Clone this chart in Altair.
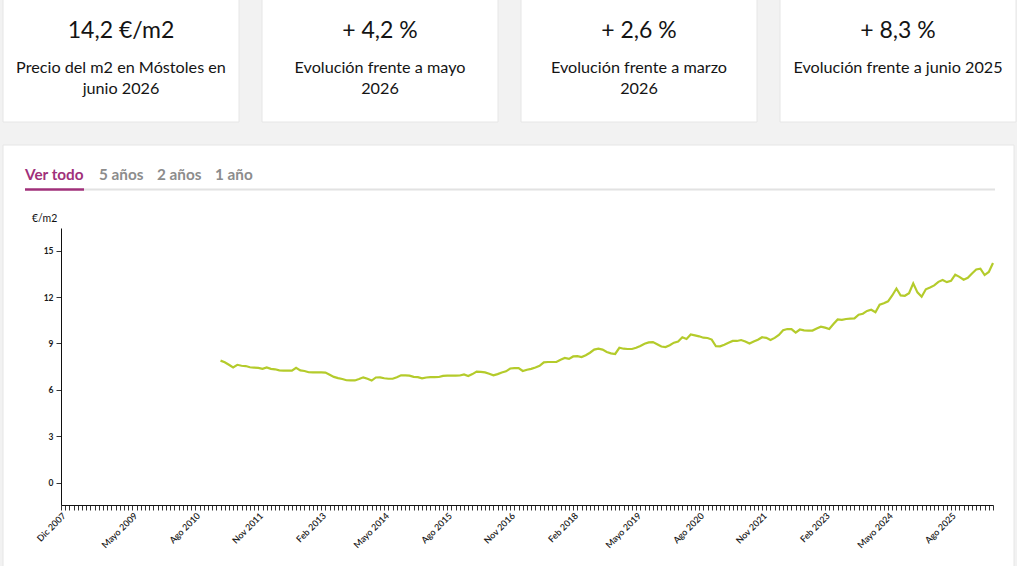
import json
import altair as alt
import pandas as pd

# Precio del alquiler en Móstoles (€/m2), serie mensual.
# El eje x cuenta meses desde diciembre de 2007 (0 = Dic 2007, 222 = Jun 2026).
inicio_serie = 38  # feb 2011
precio = [
    7.89, 7.78, 7.62, 7.45, 7.62, 7.56, 7.54, 7.46, 7.44, 7.42,
    7.36, 7.45, 7.36, 7.33, 7.26, 7.24, 7.24, 7.24, 7.42, 7.26,
    7.22, 7.14, 7.13, 7.13, 7.13, 7.12, 6.98, 6.84, 6.76, 6.70,
    6.62, 6.61, 6.61, 6.70, 6.81, 6.72, 6.60, 6.80, 6.81, 6.75,
    6.72, 6.72, 6.82, 6.94, 6.94, 6.92, 6.84, 6.82, 6.74, 6.80,
    6.82, 6.82, 6.83, 6.90, 6.92, 6.92, 6.92, 6.93, 7.00, 6.90,
    7.02, 7.18, 7.16, 7.13, 7.04, 6.94, 7.02, 7.12, 7.20, 7.38,
    7.41, 7.41, 7.22, 7.30, 7.36, 7.45, 7.55, 7.78, 7.80, 7.80,
    7.80, 7.95, 8.06, 8.00, 8.16, 8.18, 8.12, 8.24, 8.40, 8.60,
    8.66, 8.60, 8.45, 8.36, 8.32, 8.72, 8.66, 8.64, 8.64, 8.72,
    8.84, 8.98, 9.07, 9.09, 8.95, 8.80, 8.77, 8.88, 9.05, 9.13,
    9.40, 9.29, 9.58, 9.52, 9.46, 9.37, 9.35, 9.25, 8.82, 8.81,
    8.92, 9.04, 9.16, 9.16, 9.22, 9.12, 8.99, 9.12, 9.24, 9.40,
    9.36, 9.22, 9.36, 9.55, 9.85, 9.93, 9.93, 9.70, 9.90, 9.85,
    9.83, 9.83, 9.96, 10.08, 10.02, 9.93, 10.25, 10.55, 10.52, 10.58,
    10.60, 10.62, 10.86, 10.92, 11.10, 11.18, 11.02, 11.50, 11.60, 11.72,
    12.10, 12.55, 12.10, 12.08, 12.24, 12.88, 12.30, 12.02, 12.50, 12.62,
    12.75, 12.98, 13.10, 12.96, 13.05, 13.45, 13.30, 13.12, 13.24, 13.52,
    13.78, 13.83, 13.42, 13.62, 14.20,
]
ultimo_mes = 222

# Etiquetas del eje temporal
posiciones_eje = [0, 17, 32, 47, 62, 77, 92, 107, 122, 137, 152, 167, 182, 197, 212]
etiquetas_eje = ["Dic 2007", "Mayo 2009", "Ago 2010", "Nov 2011", "Feb 2013",
                 "Mayo 2014", "Ago 2015", "Nov 2016", "Feb 2018", "Mayo 2019",
                 "Ago 2020", "Nov 2021", "Feb 2023", "Mayo 2024", "Ago 2025"]
ticks_y = [0, 3, 6, 9, 12, 15]

# Tarjetas de resumen
cifras = ["14,2 €/m2", "+ 4,2 %", "+ 2,6 %", "+ 8,3 %"]
descripciones = [
    ["Precio del m2 en Móstoles en", "junio 2026"],
    ["Evolución frente a mayo", "2026"],
    ["Evolución frente a marzo", "2026"],
    ["Evolución frente a junio 2025"],
]
pestanas = ["Ver todo", "5 años", "2 años", "1 año"]

FUENTE = "Lato"
VERDE = "#b4cb2b"
MORADO = "#a0307a"
GRIS_TAB = "#8c8c8c"
TINTA = "#141414"

W, H = 932, 277
PAD_L, PAD_T = 61, 228

df = pd.DataFrame({
    "mes": list(range(inicio_serie, inicio_serie + len(precio))),
    "precio": precio,
})

uno = alt.Data(values=[{}])


def rect(x0, x1, y0, y1, fill, stroke=None):
    kw = dict(fill=fill)
    if stroke:
        kw.update(stroke=stroke, strokeWidth=1)
    return alt.Chart(uno).mark_rect(**kw).encode(
        x=alt.value(x0 - PAD_L), x2=alt.value(x1 - PAD_L),
        y=alt.value(y0 - PAD_T), y2=alt.value(y1 - PAD_T))


def texto(t, x, y, size, color=TINTA, weight="normal", align="center",
          baseline="middle", line_height=None):
    kw = dict(font=FUENTE, fontSize=size, fontWeight=weight, color=color,
              align=align, baseline=baseline)
    if line_height:
        kw["lineHeight"] = line_height
    return alt.Chart(uno).mark_text(**kw).encode(
        x=alt.value(x - PAD_L), y=alt.value(y - PAD_T), text=alt.value(t))


def regla(x0, x1, y, color, width):
    return alt.Chart(uno).mark_rule(color=color, strokeWidth=width).encode(
        x=alt.value(x0 - PAD_L), x2=alt.value(x1 - PAD_L), y=alt.value(y - PAD_T))


capas = []

# Tarjetas superiores
bordes_tarjetas = [(3, 239), (262, 498), (521, 757), (780, 1016)]
for (x0, x1), cifra, desc in zip(bordes_tarjetas, cifras, descripciones):
    cx = (x0 + x1) / 2
    capas.append(rect(x0, x1, -5, 122, "#ffffff", "#e6e6e6"))
    capas.append(texto(cifra, cx, 31, 23))
    capas.append(texto(desc, cx, 68, 16.2, line_height=21))

# Panel del gráfico
capas.append(rect(3, 1014, 145, 580, "#ffffff", "#e6e6e6"))

# Pestañas de periodo
pos_pestanas = [25, 99, 157, 215]
for i, (p, x) in enumerate(zip(pestanas, pos_pestanas)):
    capas.append(texto(p, x, 175, 15.3, color=MORADO if i == 0 else GRIS_TAB,
                       weight="bold", align="left"))
capas.append(regla(84, 995, 189.5, "#e2e2e2", 2))
capas.append(regla(25, 84, 189.5, MORADO, 2.5))

# Unidad del eje y
capas.append(texto("€/m2", 32, 219, 10.5, color="#111111", align="left"))

# Serie de precios
label_expr = (f"{json.dumps(etiquetas_eje)}[indexof({json.dumps(posiciones_eje)}, datum.value)] || ''")

linea = alt.Chart(df).mark_line(color=VERDE, strokeWidth=2.2).encode(
    x=alt.X("mes:Q",
            scale=alt.Scale(domain=[0, ultimo_mes], nice=False, zero=False),
            axis=alt.Axis(values=list(range(0, ultimo_mes + 1)), labelExpr=label_expr,
                          title=None, grid=False, labelAngle=315, labelAlign="right",
                          labelBaseline="top", labelOverlap=False, labelFlush=False,
                          labelBound=False, labelFont=FUENTE, labelFontSize=9,
                          labelFontWeight=600, labelColor="#1a1a1a", labelPadding=1,
                          tickSize=5, tickColor="#333333", domainColor="#111111",
                          zindex=1)),
    y=alt.Y("precio:Q",
            scale=alt.Scale(domain=[-1.44, 16.46], nice=False, zero=False),
            axis=alt.Axis(values=ticks_y, title=None, grid=False, labelFont=FUENTE,
                          labelFontSize=8.5, labelFontWeight="bold", labelColor="#1a1a1a",
                          labelPadding=3, tickSize=5, tickColor="#333333",
                          domainColor="#111111", zindex=1)),
)
capas.append(linea)

chart = alt.layer(*capas).properties(
    width=W, height=H,
    padding={"left": PAD_L, "top": PAD_T, "right": 1017 - PAD_L - W, "bottom": 566 - PAD_T - H},
    autosize="none",
    background="#f2f2f2",
).configure_view(stroke=None)

chart.save("out.html", embed_options={"renderer": "svg", "actions": False})
